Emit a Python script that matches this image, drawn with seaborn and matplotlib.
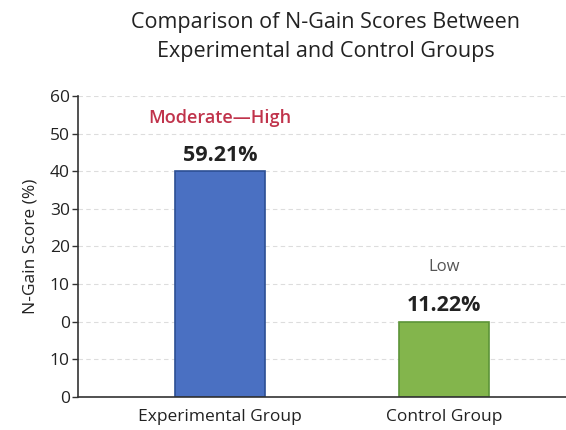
import numpy as np
import pandas as pd
import seaborn as sns
from matplotlib import pyplot as plt

groups = ['Experimental Group', 'Control Group']
bar_heights = [60, 20]  # position on the drawn axis
score_labels = ['59.21%', '11.22%']
category_labels = ['Moderate\u2014High', 'Low']
tick_values = [0, 10, 20, 30, 40, 50, 60, 70, 80]
tick_labels = ['0', '10', '0', '10', '20', '30', '40', '50', '60']

sns.set_style('white')
plt.rcParams['font.family'] = ['Open Sans', 'DejaVu Sans']

df = pd.DataFrame({'group': groups, 'score': bar_heights})

fig = plt.figure(figsize=(5.66, 4.3), dpi=100)
ax = fig.add_axes([0.138, 0.077, 0.862, 0.700])

sns.barplot(
    data=df,
    x='group',
    y='score',
    hue='group',
    palette=['#4A70C2', '#83B54C'],
    saturation=1,
    width=0.4,
    legend=False,
    ax=ax,
)
edges = ['#2C4F94', '#5C9438']
for patch, ec in zip(ax.patches, edges):
    patch.set_edgecolor(ec)
    patch.set_linewidth(1.2)

ax.set_ylim(0, 80)
ax.set_xlim(-0.634, 1.545)
ax.set_yticks(tick_values)
ax.set_yticklabels(tick_labels, fontsize=12.5, color='#222222')
ax.tick_params(axis='x', labelsize=12.5, colors='#222222', pad=9, length=0)
ax.tick_params(axis='y', length=4, width=1, color='#333333', left=True, pad=2)
ax.set_xlabel('')
ax.set_ylabel('N-Gain Score (%)', fontsize=12.5, color='#222222', labelpad=8)
ax.yaxis.grid(True, linestyle=(0, (4, 3)), color='#dddddd', linewidth=0.8)
ax.set_axisbelow(True)
sns.despine(ax=ax)
ax.spines['left'].set_color('#333333')
ax.spines['bottom'].set_color('#333333')
ax.spines['left'].set_linewidth(1.2)
ax.spines['bottom'].set_linewidth(1.2)

for i, (h, s, c) in enumerate(zip(bar_heights, score_labels, category_labels)):
    ax.text(i, h + 4.2, s, ha='center', va='center', fontsize=15.5,
            fontweight='bold', color='#222222')
    if i == 0:
        ax.text(i, h + 14.2, c, ha='center', va='center', fontsize=13,
                fontweight='semibold', color='#C0334B')
    else:
        ax.text(i, h + 14.5, c, ha='center', va='center', fontsize=12,
                color='#555555')

fig.suptitle('Comparison of N-Gain Scores Between\nExperimental and Control Groups',
             x=0.575, y=0.972, fontsize=15.5, color='#222222', linespacing=1.5)

fig.savefig('out.png', dpi=100)
